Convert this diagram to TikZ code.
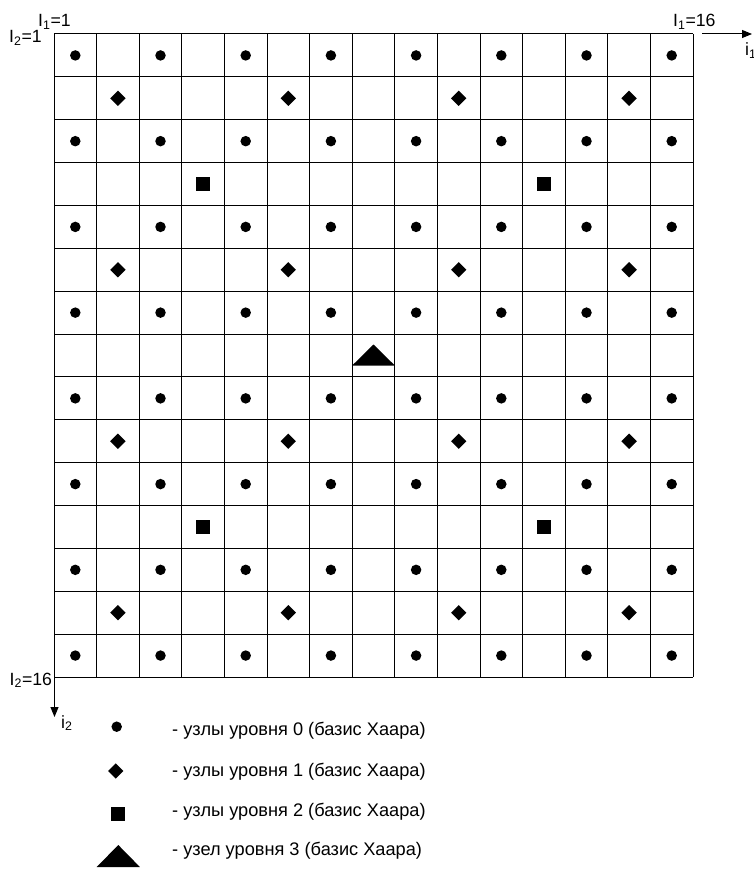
\documentclass[tikz,border=0pt]{standalone}
\usepackage{fontspec}
\setmainfont{Liberation Sans}
\usetikzlibrary{arrows.meta,shapes.geometric}
\begin{document}
\begin{tikzpicture}[x=1pt,y=-1pt,
  gridline/.style={line width=1pt},
  dotmark/.style={circle,fill,inner sep=0pt,minimum size=10.5pt},
  diamark/.style={diamond,fill,inner sep=0pt,minimum size=15.5pt},
  sqmark/.style={rectangle,fill,inner sep=0pt,minimum size=14pt},
  lbl/.style={font=\fontsize{17.7}{20}\selectfont,inner sep=0pt,anchor=base west},
  legtext/.style={font=\fontsize{18.2}{21}\selectfont,inner sep=0pt,anchor=base west},
  axisarrow/.style={line width=1pt,-{Triangle[length=10pt,width=8pt]}}]
\useasboundingbox (0,0) rectangle (753,869);
% grid
\coordinate (NW) at (54,34);
\coordinate (SE) at (693,677);
\foreach \i in {0,...,15} {
  \draw[gridline] ({54+\i*42.6},34) -- ({54+\i*42.6},677);
  \draw[gridline] (54,{34+\i*42.867}) -- (693,{34+\i*42.867});
}
% level 0
\foreach \c in {0,2,...,14} {
  \foreach \r in {0,2,...,14} {
    \node[dotmark] (d-\c-\r) at ({54+(\c+0.5)*42.6},{34+(\r+0.5)*42.867}) {};
  }
}
% level 1
\foreach \c in {1,5,9,13} {
  \foreach \r in {1,5,9,13} {
    \node[diamark] (m-\c-\r) at ({54+(\c+0.5)*42.6},{34+(\r+0.5)*42.867}) {};
  }
}
% level 2
\foreach \c in {3,11} {
  \foreach \r in {3,11} {
    \node[sqmark] (s-\c-\r) at ({54+(\c+0.5)*42.6},{34+(\r+0.5)*42.867}) {};
  }
}
% level 3
\coordinate (tri) at (373.5,355);
\fill ([shift={(-21.3,10.5)}]tri) -- ([shift={(0,-10.5)}]tri) -- ([shift={(21.3,10.5)}]tri) -- cycle;
% axes
\coordinate (a1s) at (702,34);
\coordinate (a1e) at (752,34);
\draw[axisarrow] (a1s) -- (a1e);
\coordinate (a2s) at (54.5,677);
\coordinate (a2e) at (54.5,717);
\draw[axisarrow] (a2s) -- (a2e);
% labels
\node[lbl] (l11) at (38,26.7) {I\textsubscript{1}=1};
\node[lbl] (l21) at (9,43) {I\textsubscript{2}=1};
\node[lbl] (l116) at (673,26.7) {I\textsubscript{1}=16};
\node[lbl] (l216) at (9.5,685) {I\textsubscript{2}=16};
\node[lbl] (ii2) at (61,728) {i\textsubscript{2}};
\node[lbl] (ii1) at (745,56) {i\textsubscript{1}};
% legend
\node[dotmark] (ld) at (116.7,726.7) {};
\node[diamark] (lm) at (115.8,771) {};
\node[sqmark] (ls) at (118,814) {};
\coordinate (lt) at (118.3,856);
\fill ([shift={(-21.6,11)}]lt) -- ([shift={(0,-11)}]lt) -- ([shift={(21.6,11)}]lt) -- cycle;
\node[legtext] (t0) at (172,735) {- узлы уровня 0 (базис Хаара)};
\node[legtext] (t1) at (172,776) {- узлы уровня 1 (базис Хаара)};
\node[legtext] (t2) at (172,816) {- узлы уровня 2 (базис Хаара)};
\node[legtext] (t3) at (172,855) {- узел уровня 3 (базис Хаара)};
\end{tikzpicture}
\end{document}
